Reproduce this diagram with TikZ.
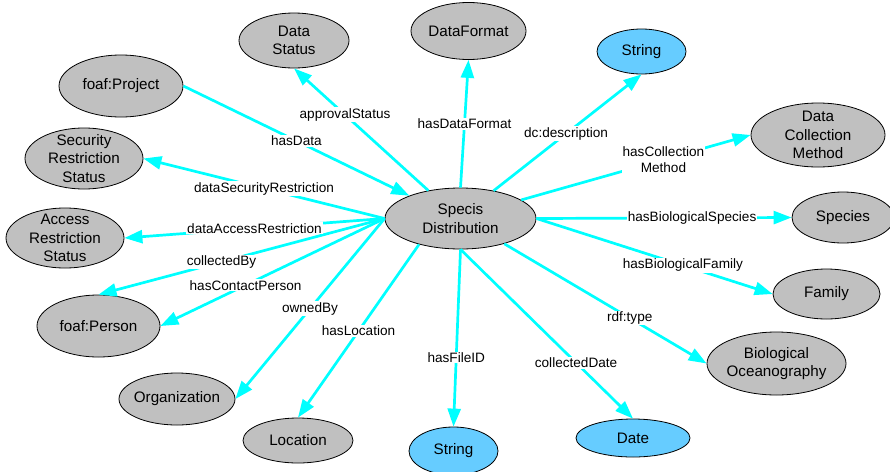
\documentclass[tikz,border=0pt]{standalone}
\usepackage{fontspec}
\setmainfont{Liberation Sans}
\usetikzlibrary{arrows.meta,shapes.geometric}

\definecolor{clsgray}{RGB}{192,192,192}
\definecolor{litblue}{RGB}{102,204,255}
\definecolor{relcyan}{RGB}{0,255,255}

\begin{document}
\begin{tikzpicture}[x=1pt, y=-1pt,
    cls/.style={ellipse, draw=black, line width=0.8pt, fill=clsgray, inner sep=0pt},
    lit/.style={cls, fill=litblue},
    ntxt/.style={font=\fontsize{15.2}{18.3}\selectfont, align=center},
    rel/.style={draw=relcyan, line width=2.7pt, -{Triangle[length=18pt, width=13pt]}},
    lbl/.style={fill=white, inner sep=1pt, font=\fontsize{13.6}{15.5}\selectfont, align=center}]
    \useasboundingbox (0, 0) rectangle (890, 471);

    % the resource in the middle
    \node[cls, minimum width=151pt, minimum height=61pt, label={[ntxt]center:Specis\\Distribution}] (sd) at (460.5, 218.5) {};

    % classes
    \node[cls, minimum width=110pt, minimum height=55pt, label={[ntxt]center:Data\\Status}] (ds) at (294, 40.5) {};
    \node[cls, minimum width=124pt, minimum height=62pt, label={[ntxt]center:foaf:Project}] (proj) at (121, 86) {};
    \node[cls, minimum width=118pt, minimum height=61pt, label={[ntxt]center:Security\\Restriction\\Status}] (sec) at (84, 158.5) {};
    \node[cls, minimum width=118pt, minimum height=60pt, label={[ntxt]center:Access\\Restriction\\Status}] (acc) at (65, 238) {};
    \node[cls, minimum width=123pt, minimum height=62pt, label={[ntxt]center:foaf:Person}] (per) at (98.5, 326) {};
    \node[cls, minimum width=116pt, minimum height=52pt, label={[ntxt]center:Organization}] (org) at (177, 399) {};
    \node[cls, minimum width=110pt, minimum height=45pt, label={[ntxt]center:Location}] (loc) at (298, 440.5) {};
    \node[cls, minimum width=139pt, minimum height=63pt, label={[ntxt]center:Biological\\Oceanography}] (bio) at (776.5, 363.5) {};
    \node[cls, minimum width=107pt, minimum height=50pt, label={[ntxt]center:Family}] (fam) at (826.5, 294) {};
    \node[cls, minimum width=102pt, minimum height=51pt, label={[ntxt]center:Species}] (spec) at (843, 217.5) {};
    \node[cls, minimum width=134pt, minimum height=64pt, label={[ntxt]center:Data\\Collection\\Method}] (dcm) at (818, 135) {};
    \node[cls, minimum width=115pt, minimum height=57pt, label={[ntxt]center:DataFormat}] (dfmt) at (468.5, 31) {};

    % literals
    \node[lit, minimum width=89pt, minimum height=45pt, label={[ntxt]center:String}] (strT) at (641.5, 51.5) {};
    \node[lit, minimum width=89pt, minimum height=48pt, label={[ntxt]center:String}] (strB) at (453.5, 451) {};
    \node[lit, minimum width=114pt, minimum height=38pt, label={[ntxt]center:Date}] (date) at (633, 438) {};

    % properties
    \draw[rel] (sd.139) -- node[lbl, pos=0.62] {approvalStatus} (ds.south);
    \draw[rel] (proj.east) -- node[lbl, pos=0.5] {hasData} (sd.156);
    \draw[rel] (sd.north) -- node[lbl, pos=0.5] {hasDataFormat} (dfmt.south);
    \draw[rel] (sd.40) -- node[lbl, pos=0.49] {dc:description} (strT.south);
    \draw[rel] (sd.17) -- node[lbl, pos=0.62] {hasCollection\\Method} (dcm.west);
    \draw[rel] (sd.east) -- node[lbl, pos=0.61] {hasBiologicalSpecies} (spec.west);
    \draw[rel] (sd.east) -- node[lbl, pos=0.62] {hasBiologicalFamily} (fam.west);
    \draw[rel] (sd.-30) -- node[lbl, pos=0.62] {rdf:type} (bio.west);
    \draw[rel] (sd.south) -- node[lbl, pos=0.67] {collectedDate} (date.north);
    \draw[rel] (sd.south) -- node[lbl, pos=0.61] {hasFileID} (strB.north);
    \draw[rel] (sd.212) -- node[lbl, pos=0.5] {hasLocation} (loc.north);
    \draw[rel] (sd.west) -- node[lbl, pos=0.5] {ownedBy} (org.east);
    \draw[rel] (sd.west) -- node[lbl, pos=0.62] {hasContactPerson} (per.east);
    \draw[rel] (sd.west) -- node[lbl, pos=0.57] {collectedBy} (per.north);
    \draw[rel] (sd.west) -- node[lbl, pos=0.5] {dataAccessRestriction} (acc.east);
    \draw[rel] (sd.west) -- node[lbl, pos=0.5] {dataSecurityRestriction} (sec.east);
\end{tikzpicture}
\end{document}
